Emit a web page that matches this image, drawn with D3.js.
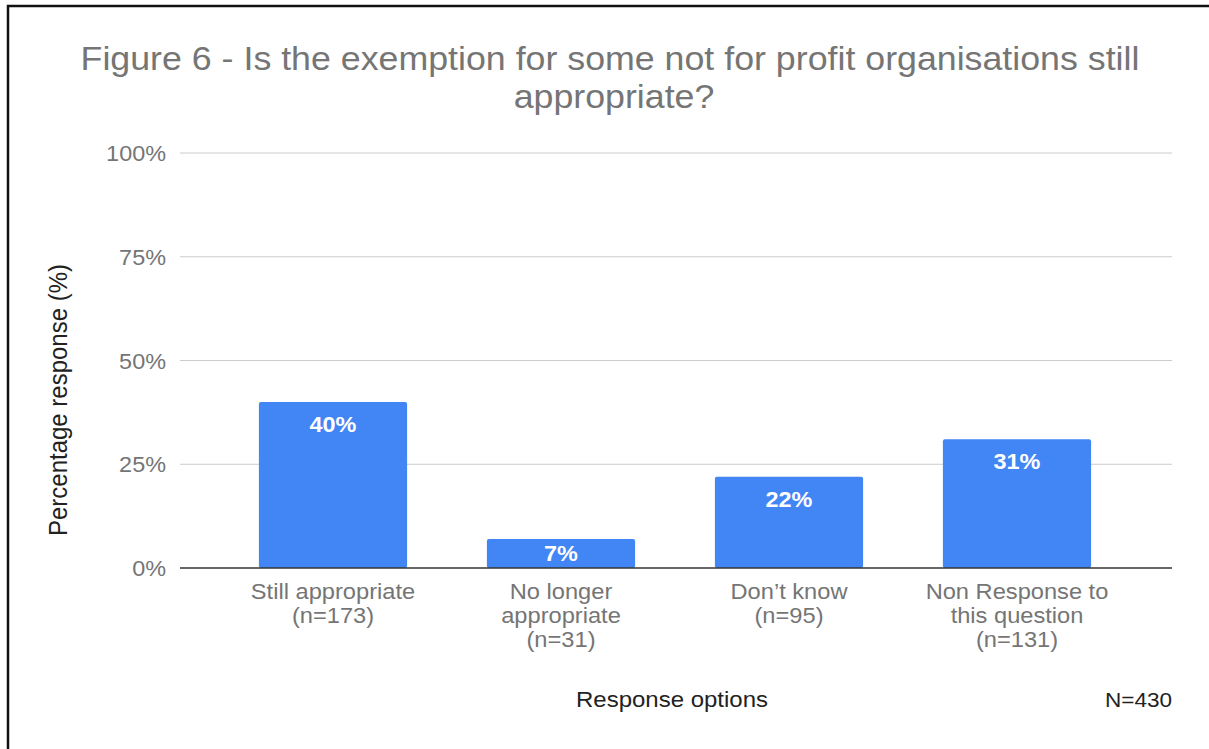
<!DOCTYPE html>
<html>
<head>
<meta charset="utf-8">
<script src="https://cdn.jsdelivr.net/npm/d3@7"></script>
<style>
  body { margin: 0; background: #fff; }
  svg { font-family: "Liberation Sans", Arial, sans-serif; }
</style>
</head>
<body>
<div id="container"></div>
<script>
var width = 1209, height = 749;

// donnees du graphique
var categories = [
  ["Still appropriate", "(n=173)"],
  ["No longer", "appropriate", "(n=31)"],
  ["Don\u2019t know", "(n=95)"],
  ["Non Response to", "this question", "(n=131)"]
];
var values = [40, 7, 22, 31];
var valueLabels = ["40%", "7%", "22%", "31%"];
var yTicks = [0, 25, 50, 75, 100];

// le texte de l'image d'origine est un peu etire horizontalement
var SX = 1.1;
function place(x, y) {
  return "translate(" + x + "," + y + ") scale(" + SX + ",1)";
}

var svg = d3.select("#container")
  .append("svg")
  .attr("width", width)
  .attr("height", height);

// cadre noir autour de la figure
svg.append("rect")
  .attr("x", 8).attr("y", 6)
  .attr("width", width + 20).attr("height", height + 20)
  .attr("fill", "none")
  .attr("stroke", "#111")
  .attr("stroke-width", 2.5);

// titre
svg.append("text")
  .attr("transform", place(610, 70))
  .attr("text-anchor", "middle")
  .attr("fill", "#757575")
  .style("font-size", "32.5px")
  .text("Figure 6 - Is the exemption for some not for profit organisations still");
svg.append("text")
  .attr("transform", place(614, 108))
  .attr("text-anchor", "middle")
  .attr("fill", "#757575")
  .style("font-size", "32.5px")
  .text("appropriate?");

var plotLeft = 180, plotRight = 1172, plotTop = 153, plotBottom = 568;

var y = d3.scaleLinear().domain([0, 100]).range([plotBottom, plotTop]);
var x = d3.scaleBand()
  .domain(d3.range(values.length))
  .range([219, 1131])
  .paddingInner(0.35)
  .paddingOuter(0.175);

// lignes de grille
svg.append("g")
  .selectAll("line")
  .data(yTicks.filter(function(d) { return d > 0; }))
  .enter().append("line")
  .attr("x1", plotLeft).attr("x2", plotRight)
  .attr("y1", function(d) { return y(d); })
  .attr("y2", function(d) { return y(d); })
  .attr("stroke", "#cccccc")
  .attr("stroke-width", 1);

// axe y
var yAxis = svg.append("g")
  .attr("transform", "translate(" + (plotLeft - 14) + ",0)")
  .call(d3.axisLeft(y).tickValues(yTicks).tickSize(0).tickFormat(function(d) { return d + "%"; }));
yAxis.select(".domain").remove();
yAxis.selectAll("text")
  .attr("x", 0)
  .attr("dy", "0.36em")
  .attr("transform", "scale(" + SX + ",1)")
  .attr("fill", "#757575")
  .style("font-size", "21.3px")
  .style("font-family", "Liberation Sans, Arial, sans-serif");

// barres
svg.append("g")
  .selectAll("rect")
  .data(values)
  .enter().append("rect")
  .attr("x", function(d, i) { return x(i); })
  .attr("y", function(d) { return y(d); })
  .attr("width", x.bandwidth())
  .attr("height", function(d) { return plotBottom - y(d); })
  .attr("rx", 2)
  .attr("fill", "#4285f4");

// etiquettes des barres
svg.append("g")
  .selectAll("text")
  .data(values)
  .enter().append("text")
  .attr("transform", function(d, i) {
    var h = plotBottom - y(d);
    return place(x(i) + x.bandwidth() / 2, y(d) + Math.min(30, h / 2 + 7.5));
  })
  .attr("text-anchor", "middle")
  .attr("fill", "#fff")
  .style("font-size", "21.3px")
  .style("font-weight", "bold")
  .text(function(d, i) { return valueLabels[i]; });

// axe x
svg.append("line")
  .attr("x1", plotLeft).attr("x2", plotRight)
  .attr("y1", plotBottom).attr("y2", plotBottom)
  .attr("stroke", "#333")
  .attr("stroke-width", 1.5);

var xLabels = svg.append("g")
  .selectAll("text")
  .data(categories)
  .enter().append("text")
  .attr("transform", function(d, i) { return place(x(i) + x.bandwidth() / 2, 599); })
  .attr("text-anchor", "middle")
  .attr("fill", "#757575")
  .style("font-size", "21.5px");
xLabels.each(function(lines) {
  var t = d3.select(this);
  lines.forEach(function(l, k) {
    t.append("tspan")
      .attr("x", 0)
      .attr("y", k * 24)
      .text(l);
  });
});

// titres des axes
svg.append("text")
  .attr("transform", place(672, 707))
  .attr("text-anchor", "middle")
  .attr("fill", "#222")
  .style("font-size", "21.8px")
  .text("Response options");

svg.append("text")
  .attr("transform", place(plotRight, 707))
  .attr("text-anchor", "end")
  .attr("fill", "#222")
  .style("font-size", "20.5px")
  .text("N=430");

svg.append("text")
  .attr("transform", "translate(67,400) rotate(-90) scale(1," + SX + ")")
  .attr("text-anchor", "middle")
  .attr("fill", "#222")
  .style("font-size", "24px")
  .text("Percentage response (%)");
</script>
</body>
</html>
